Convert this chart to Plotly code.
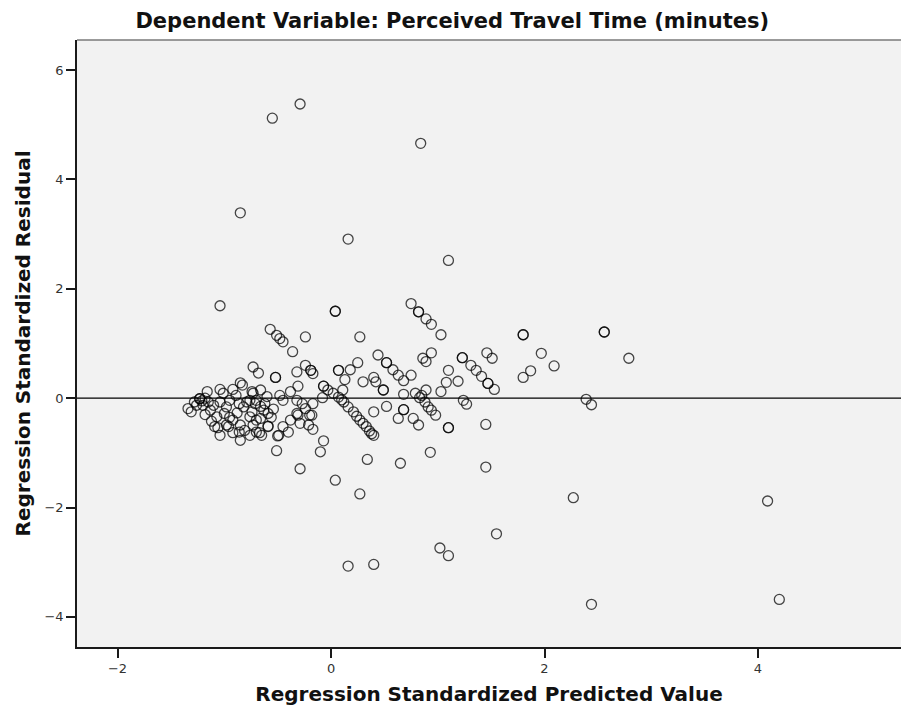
import plotly.graph_objects as go

# Regression standardized predicted value (x) and standardized residual (y)
pred = [
    -0.29, -0.55, 0.84, -0.85, 0.16, 1.10, 4.09, 4.20, 2.44, 0.16, 0.40, 2.27, 1.55, 1.02, 1.10,
    0.27, 0.04, -0.29, 0.34, 0.65, 0.93, 1.45, 1.45, -0.10, -0.51, -0.07,
    1.80, 1.80, 1.97, 1.87, 1.80, 2.09, 2.56, 2.56, 2.79, 2.39, 2.44,
    -1.04, 0.04, 0.04, 0.75, 0.82, 0.82, 0.89, 0.94, 1.03, -0.57, -0.51, -0.45, -0.36, -0.48,
    -0.24, 0.27,
    -0.73, -0.68, -0.52, -0.52, -0.32, -0.24, -0.19, -0.19, -0.17, 0.07, 0.07, 0.18, 0.25, 0.13,
    0.30, 0.40, 0.42, 0.44,
    -0.66, -0.74, -0.76, -0.71, -0.66, -0.63, -0.59,
    -0.48, -0.45, -0.38, -0.31, -0.32, -0.27, -0.24, -0.20, -0.31, -0.17, -0.07, -0.07, -0.03,
    0.02, 0.07, 0.12, 0.16, 0.21, 0.27, 0.33, 0.38, 0.40, 0.36, 0.24, 0.30, 0.10,
    -0.08, -0.76, -0.73, -0.70, -0.65, -0.59, -0.66, -0.45, -0.40, -0.49, -0.38, -0.32, -0.29,
    -0.21, -0.18, -0.17,
    0.52, 0.52, 0.58, 0.63, 0.68, 0.75,
    0.49, 0.49, 0.52, 0.68, 0.68, 0.63, 0.77, 0.82,
    0.94, 0.86, 0.89,
    0.89, 1.03, 1.08, 1.10, 1.19,
    1.23, 1.23, 1.31, 1.36, 1.41,
    1.46, 1.51, 1.47, 1.47, 1.53,
    1.24, 1.27, 1.10, 1.10,
    0.79, 0.83, 0.88, 0.91, 0.94, 0.98, 0.68, 0.11, 0.40, 0.85,
    -0.85, -0.83, -1.16, -1.04, -0.92, -1.23, -1.23, -1.34, -1.31, -1.20, -1.13, -1.07, -1.06,
    -1.04, -0.85, -0.76, -0.98, -0.92, -0.85, -0.81, -0.88, -0.98, -1.04, -1.01, -0.95, -0.82,
    -0.79, -0.74, -0.70, -0.73, -0.70,
    -1.09, -0.96, -0.92, -0.67, -0.59, -0.50, -1.26, -1.28, -1.18, -1.15, -1.10, -1.00, -0.95,
    -1.18, -1.12, -1.21, -0.89, -0.86, -0.62, -0.56, -0.54, -0.60, -0.86,
]

resid = [
    5.38, 5.12, 4.66, 3.39, 2.91, 2.52, -1.88, -3.68, -3.77, -3.07, -3.04, -1.82, -2.48, -2.74, -2.88,
    -1.75, -1.50, -1.29, -1.12, -1.19, -0.99, -1.26, -0.48, -0.98, -0.96, -0.78,
    1.16, 1.16, 0.82, 0.50, 0.38, 0.59, 1.21, 1.21, 0.73, -0.02, -0.12,
    1.69, 1.59, 1.59, 1.73, 1.58, 1.58, 1.45, 1.35, 1.16, 1.26, 1.15, 1.03, 0.85, 1.09,
    1.12, 1.12,
    0.57, 0.46, 0.38, 0.38, 0.48, 0.60, 0.51, 0.51, 0.45, 0.51, 0.51, 0.52, 0.65, 0.34,
    0.30, 0.38, 0.30, 0.79,
    0.15, 0.12, -0.04, -0.10, -0.15, -0.22, -0.28,
    0.05, -0.04, 0.12, 0.22, -0.04, -0.10, -0.19, -0.31, -0.31, -0.10, 0.22, 0.22, 0.15,
    0.09, 0.02, -0.07, -0.16, -0.25, -0.40, -0.52, -0.65, -0.68, -0.60, -0.33, -0.46, -0.03,
    0.01, -0.34, -0.49, -0.62, -0.68, -0.52, -0.37, -0.52, -0.62, -0.68, -0.40, -0.28, -0.46,
    -0.49, -0.31, -0.57,
    0.65, 0.65, 0.52, 0.42, 0.32, 0.42,
    0.15, 0.15, -0.15, -0.21, -0.21, -0.37, -0.37, -0.49,
    0.83, 0.73, 0.67,
    0.15, 0.12, 0.29, 0.51, 0.31,
    0.74, 0.74, 0.60, 0.51, 0.40,
    0.83, 0.73, 0.27, 0.27, 0.16,
    -0.04, -0.11, -0.54, -0.54,
    0.09, 0.01, -0.07, -0.16, -0.22, -0.31, 0.07, 0.15, -0.25, 0.05,
    0.28, 0.24, 0.12, 0.16, 0.16, -0.01, -0.01, -0.19, -0.25, -0.13, -0.22, -0.34, -0.54,
    -0.68, -0.77, -0.68, -0.49, -0.40, -0.49, -0.59, -0.27, -0.16, -0.07, 0.09, -0.04, -0.16,
    -0.07, -0.25, -0.40, 0.09, -0.04,
    -0.52, -0.52, -0.63, -0.63, -0.51, -0.69, -0.13, -0.07, 0.00, -0.07, -0.13, -0.28, -0.35,
    -0.30, -0.42, -0.05, 0.05, -0.10, -0.10, -0.35, -0.20, 0.03, -0.62,
]

x_ticks = [-2, 0, 2, 4]
y_ticks = [-4, -2, 0, 2, 4, 6]

fig = go.Figure()
fig.add_trace(go.Scatter(
    x=pred, y=resid, mode="markers",
    marker=dict(symbol="circle-open", size=10, color="rgba(0,0,0,0.72)",
                line=dict(width=1.3, color="rgba(0,0,0,0.72)")),
    hoverinfo="x+y", showlegend=False,
))

# reference line at zero residual
fig.add_shape(type="line", xref="paper", x0=0, x1=1, yref="y", y0=0, y1=0,
              line=dict(color="black", width=1.3), layer="above")
# lighter top frame
fig.add_shape(type="line", xref="paper", x0=0, x1=1, yref="paper", y0=1, y1=1,
              line=dict(color="#7a7a7a", width=1.6), layer="above")

axis_common = dict(
    showline=True, linecolor="#1a1a1a", linewidth=1.5, mirror=False,
    ticks="outside", ticklen=9, tickwidth=1.5, tickcolor="#1a1a1a",
    showgrid=False, zeroline=False,
    tickfont=dict(family="DejaVu Sans", size=13, color="#333333"),
)

fig.update_layout(
    width=901, height=718,
    margin=dict(l=77, r=0, t=40, b=71),
    paper_bgcolor="white", plot_bgcolor="#f2f2f2",
    title=dict(text="<b>Dependent Variable: Perceived Travel Time (minutes)</b>",
               font=dict(family="DejaVu Sans", size=21, color="#111111"),
               xref="container", x=0.502, xanchor="center",
               yref="container", y=1 - 21 / 718, yanchor="middle"),
    xaxis=dict(range=[-2.38, 5.34], tickvals=x_ticks,
               title=dict(text="<b>Regression Standardized Predicted Value</b>",
                          font=dict(family="DejaVu Sans", size=20, color="#111111"),
                          standoff=12),
               automargin=False, **axis_common),
    yaxis=dict(range=[-4.55, 6.55], tickvals=y_ticks,
               title=dict(text="<b>Regression Standardized Residual</b>",
                          font=dict(family="DejaVu Sans", size=20, color="#111111"),
                          standoff=8),
               automargin=False, **axis_common),
)

fig.write_html("out.html")
